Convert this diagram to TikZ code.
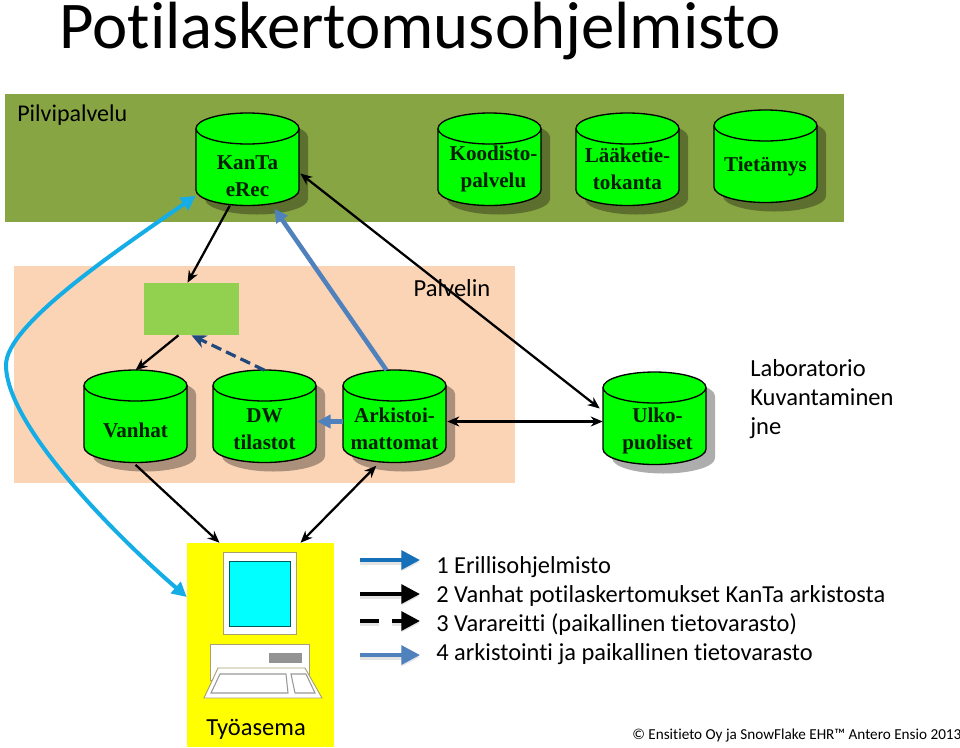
\documentclass[tikz,border=0pt]{standalone}
\usepackage{fontspec}
\setmainfont[Ligatures=NoCommon,Contextuals=NoAlternate]{Carlito}
\newfontfamily\cylfont{Liberation Serif}
\usetikzlibrary{arrows.meta}
\definecolor{olivebg}{HTML}{88A544}
\definecolor{pinkbg}{HTML}{FBD3B5}
\definecolor{boxgreen}{HTML}{92D050}
\definecolor{cylgreen}{HTML}{00FF00}
\definecolor{skyc}{HTML}{14ADE6}
\definecolor{steelc}{HTML}{4F81BD}
\definecolor{navyc}{HTML}{1F497D}
\definecolor{legblue}{HTML}{1470B8}
\definecolor{wire}{HTML}{A8A070}
\definecolor{yellowbg}{HTML}{FFFF00}
\definecolor{screenc}{HTML}{00FFFF}
\newcommand{\px}[1]{\fontsize{\dimexpr #1pt*3/4\relax}{\dimexpr #1pt*9/10\relax}\selectfont}
\newcommand{\pxx}[1]{\fontsize{#1}{1.2\dimexpr #1\relax}\selectfont}
\newcommand{\cylsize}{\fontsize{15.8pt}{20.2pt}\selectfont}
\tikzset{
  x=0.75pt,y=-0.75pt,
  cylbody/.style={draw=black,line width=1pt,fill=cylgreen},
  cyllabel/.style={inner sep=0pt,minimum width=103*0.75pt,minimum height=92*0.75pt},
  cyltext/.style={font=\cylfont\bfseries\cylsize,align=center,text=black!88!green,inner sep=0pt},
  txt/.style={font=\fontsize{18.3pt}{22pt}\selectfont,anchor=west,inner sep=0pt,text=black},
  blk/.style={draw=black,line width=1.7pt,-{Stealth[length=9pt,width=7.5pt]}},
  blkd/.style={draw=black,line width=1.7pt,{Stealth[length=9pt,width=7.5pt]}-{Stealth[length=9pt,width=7.5pt]}},
  wirefill/.style={draw=wire,line width=0.7pt,fill=white},
  keyline/.style={draw=gray!80,line width=0.8pt,fill=white},
  legshadow/.style={draw=gray,opacity=0.22,line width=4.5pt,-{Triangle[length=14pt,width=13pt]}},
  legarrow/.style={line width=3pt,-{Triangle[length=14pt,width=14pt]}}
}
% name, left x, top y, text dx, text dy, text
\newcommand{\cyl}[6]{%
  \fill[black,opacity=0.32] (#2+9,#3+24) arc[x radius=51.5,y radius=15.5,start angle=180,end angle=360] -- (#2+112,#3+86) arc[x radius=51.5,y radius=15.5,start angle=0,end angle=180] -- cycle;
  \draw[cylbody] (#2,#3+15.5) -- (#2,#3+77) arc[x radius=51.5,y radius=15.5,start angle=180,end angle=0] -- (#2+103,#3+15.5);
  \draw[cylbody] (#2+51.5,#3+15.5) ellipse[x radius=51.5,y radius=15.5];
  \node[cyllabel] (#1) at (#2+51.5,#3+46.5) {};
  \node[cyltext] (#1t) at (#2+51.5+#4,#3+#5) {#6};
}
\begin{document}
\begin{tikzpicture}
\useasboundingbox (0,0) rectangle (960,747);
\fill[white] (0,0) rectangle (960,747);
% backgrounds
\fill[olivebg] (5,94) rectangle (844,222);
\fill[pinkbg] (14,266) rectangle (515,483);
\fill[yellowbg] (187,543) rectangle (334,747);
\fill[boxgreen] (144,283) rectangle (239,335);
\node[inner sep=0pt,minimum width=95*0.75pt,minimum height=52*0.75pt] (gbox) at (191.5,309) {};
\node[inner sep=0pt,minimum width=147*0.75pt,minimum height=204*0.75pt] (ws) at (260.5,645) {};
% title and labels
\node[font=\fontsize{50.1pt}{60pt}\selectfont,anchor=west,inner sep=0pt] (title) at (59,31) {Potilaskertomusohjelmisto};
\node[font=\fontsize{18pt}{21.6pt}\selectfont,anchor=west,inner sep=0pt] (pilvi) at (17,115) {Pilvipalvelu};
\node[font=\fontsize{18.4pt}{21.6pt}\selectfont,inner sep=0pt] (palvelin) at (452,288) {Palvelin};
% cylinders
\cyl{kanta}{196}{113}{0}{63}{KanTa\\eRec}
\cyl{koodi}{438}{113}{4}{55.5}{Koodisto-\\palvelu}
\cyl{laake}{576}{113}{0}{55.5}{Lääketie-\\tokanta}
\cyl{tieto}{714}{110}{0}{56}{Tietämys}
\cyl{vanhat}{84}{370}{0}{60}{Vanhat}
\cyl{dw}{213}{370}{0}{59.5}{DW\\tilastot}
\cyl{arki}{343}{370}{0}{58.5}{Arkistoi-\\mattomat}
\cyl{ulko}{603}{372}{3}{58.5}{Ulko-\\puoliset}
\node[font=\fontsize{18.4pt}{21.8pt}\selectfont,align=left,anchor=north west,inner sep=0pt] (lab) at (750,359) {Laboratorio\\Kuvantaminen\\jne};
% connectors
\draw[blk] (kanta.south west) ++(34,0) coordinate (a1) -- ([xshift=-4*0.75pt]gbox.north);
\draw[blk] ([xshift=-13*0.75pt]gbox.south) -- (vanhat.north);
\draw[navyc,line width=2.4pt,dash pattern=on 8pt off 4pt,-{Stealth[length=11pt,width=10pt,open]}] (dw.north) -- (gbox.south);
\draw[steelc,line width=3.4pt,-{Triangle[length=10pt,width=10pt]}] ([xshift=-8*0.75pt]arki.north) -- ([xshift=27*0.75pt,yshift=-3*0.75pt]kanta.south);
\draw[steelc,line width=3.4pt,-{Triangle[length=10pt,width=10pt]}] ([yshift=-5*0.75pt]arki.west) -- ([xshift=1*0.75pt,yshift=-5*0.75pt]dw.east);
\draw[blkd] ([yshift=-3*0.75pt]ulko.west) -- ([xshift=1*0.75pt,yshift=-5*0.75pt]arki.east);
\draw[blkd] ([xshift=-3*0.75pt,yshift=10*0.75pt]ulko.west) -- ([xshift=1*0.75pt,yshift=-14*0.75pt]kanta.east);
\draw[blk] ([yshift=-2*0.75pt]vanhat.south) -- ([xshift=-41*0.75pt]ws.north);
\draw[blkd] ([xshift=40*0.75pt]ws.north) -- ([xshift=-70*0.75pt,yshift=-3*0.75pt]arki.south east);
\draw[skyc,line width=3pt,{Triangle[length=11pt,width=11pt]}-{Triangle[length=11pt,width=11pt]}]
  ([yshift=10*0.75pt]kanta.south west) .. controls (115,252) and (6,325) .. (6,365) .. controls (6,425) and (115,535) .. ([yshift=48*0.75pt]ws.west);
% workstation
\draw[wirefill] (223,552) rectangle (296,634);
\draw[draw=teal!70!black,line width=0.7pt,fill=screenc] (229,561) rectangle (290,626);
\draw[wirefill] (210,644) rectangle (309,680);
\fill[gray!85] (269,653) rectangle (302,663);
\draw[wirefill] (218,668) -- (305,668) -- (322,698) -- (204,698) -- cycle;
\draw[keyline] (220,674) -- (286,674) -- (288,693) -- (211,693) -- cycle;
\draw[keyline] (291,674) -- (306,674) -- (315,693) -- (295,693) -- cycle;
\node[font=\fontsize{18.4pt}{22pt}\selectfont,inner sep=0pt] (tyo) at (256,729) {Työasema};
% legend
\coordinate (l1a) at (360,560);\coordinate (l1b) at (420,560);
\coordinate (l2a) at (360,594);\coordinate (l2b) at (420,594);
\coordinate (l3a) at (360,621);\coordinate (l3b) at (420,621);
\coordinate (l4a) at (360,655);\coordinate (l4b) at (420,655);
\draw[legshadow] ([yshift=-1.5pt]l1a) -- ([yshift=-1.5pt]l1b);
\draw[legshadow] ([yshift=-1.5pt]l2a) -- ([yshift=-1.5pt]l2b);
\draw[legshadow,dash pattern=on 14.25pt off 9.75pt] ([yshift=-1.5pt]l3a) -- ([yshift=-1.5pt]l3b);
\draw[legshadow] ([yshift=-1.5pt]l4a) -- ([yshift=-1.5pt]l4b);
\draw[legarrow,legblue] (l1a) -- (l1b);
\draw[legarrow,black] (l2a) -- (l2b);
\draw[legarrow,black,dash pattern=on 14.25pt off 9.75pt] (l3a) -- (l3b);
\draw[legarrow,steelc] (l4a) -- (l4b);
\node[txt] (t1) at (436,567) {1 Erillisohjelmisto};
\node[txt] (t2) at (436,596) {2 Vanhat potilaskertomukset KanTa arkistosta};
\node[txt] (t3) at (436,625) {3 Varareitti (paikallinen tietovarasto)};
\node[txt] (t4) at (436,654) {4 arkistointi ja paikallinen tietovarasto};
\node[font=\fontsize{11.4pt}{13pt}\selectfont,anchor=west,inner sep=0pt] (foot) at (632,736) {© Ensitieto Oy ja SnowFlake EHR™ Antero Ensio 2013};
\end{tikzpicture}
\end{document}
